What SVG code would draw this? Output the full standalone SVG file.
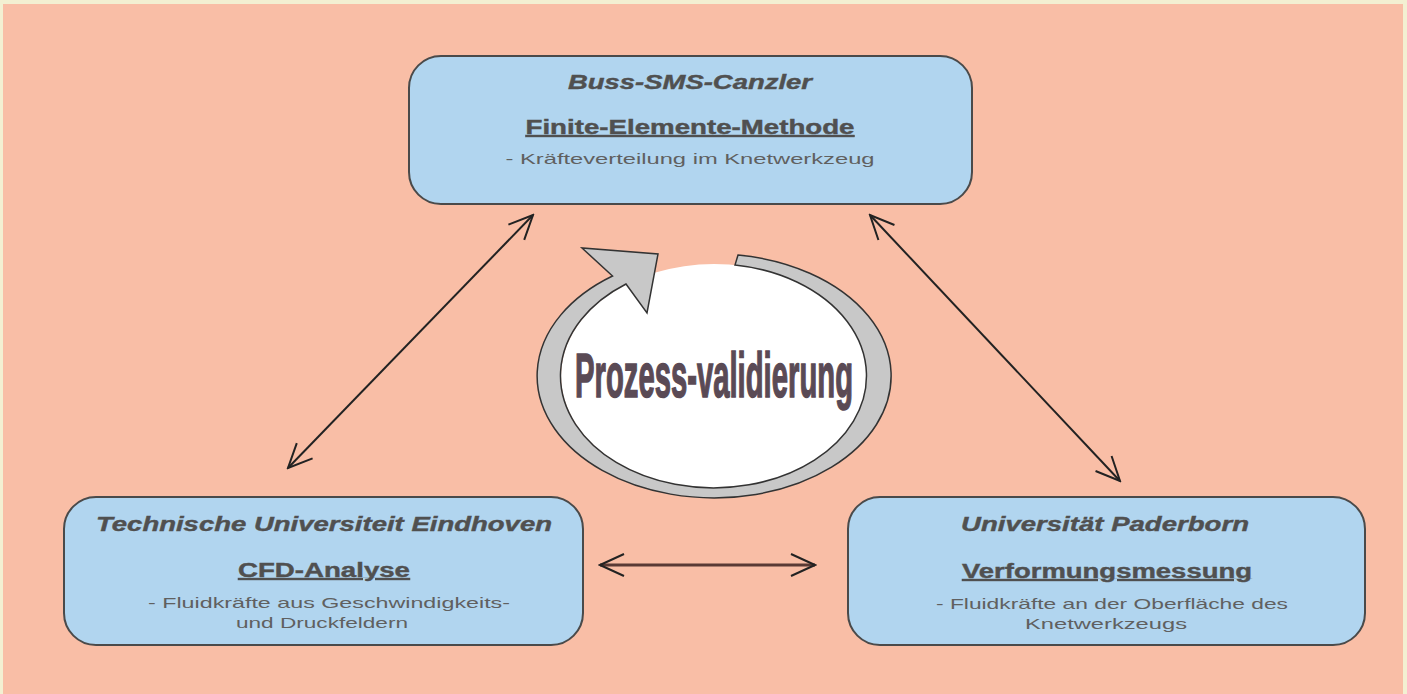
<svg xmlns="http://www.w3.org/2000/svg" width="1407" height="694" viewBox="0 0 1407 694">
<style>
.box{fill:#b1d5ef;stroke:#4a4a4a;stroke-width:2}
.t{font-family:"Liberation Sans",Arial,sans-serif;text-anchor:middle}
.org{font-weight:bold;font-style:italic;font-size:20px;fill:#505050;stroke:#505050;stroke-width:0.4}
.meth{font-weight:bold;font-size:20px;fill:#505050;stroke:#505050;stroke-width:0.4;text-decoration:underline}
.desc{font-size:15px;fill:#606060}
.conn{stroke:#222;stroke-width:2;fill:none}
</style>
<defs>
<marker id="ah" markerUnits="userSpaceOnUse" viewBox="-26 -14 28 28" markerWidth="28" markerHeight="28" refX="0" refY="0" orient="auto-start-reverse">
<path d="M-24,-11 L0,0 L-24,11" fill="none" stroke="#222" stroke-width="2"/>
</marker>
</defs>
<rect x="0" y="0" width="1407" height="694" fill="#f3f0d2"/>
<rect x="3" y="4" width="1400" height="690" fill="#f9bea6"/>

<g id="connectors">
<line class="conn" x1="533" y1="215" x2="288" y2="468" marker-start="url(#ah)" marker-end="url(#ah)"/>
<line class="conn" x1="870" y1="215" x2="1120" y2="481" marker-start="url(#ah)" marker-end="url(#ah)"/>
<line class="conn" x1="600" y1="565" x2="815" y2="565" style="stroke:#5a3a35;stroke-width:3" marker-start="url(#ah)" marker-end="url(#ah)"/>
</g>

<g id="cycle">
<ellipse cx="714" cy="376" rx="153" ry="112" fill="#ffffff"/>
<path d="M 612.5 276 A 177 122 0 1 0 738 255 L 735 265 A 153 112 0 1 1 626 284 L 647 313 L 658 254 L 582 248 Z" fill="#c8c8c8" stroke="#333" stroke-width="1.5" stroke-linejoin="miter"/>
<text x="714" y="397" textLength="278" lengthAdjust="spacingAndGlyphs" style="font-family:'Liberation Sans',Arial,sans-serif;font-weight:bold;font-size:63px;fill:#5a4a55;stroke:#5a4a55;stroke-width:1.6;text-anchor:middle">Prozess-validierung</text>
</g>

<g id="node-top">
<rect class="box" x="409" y="56" width="563" height="148" rx="32" ry="32"/>
<text class="t org" x="690" y="89" textLength="244" lengthAdjust="spacingAndGlyphs">Buss-SMS-Canzler</text>
<text class="t meth" x="690" y="134" textLength="329" lengthAdjust="spacingAndGlyphs">Finite-Elemente-Methode</text>
<text class="t desc" x="690" y="164" textLength="369" lengthAdjust="spacingAndGlyphs">- Kräfteverteilung im Knetwerkzeug</text>
</g>

<g id="node-left">
<rect class="box" x="64" y="497" width="519" height="148" rx="32" ry="32"/>
<text class="t org" x="324" y="531" textLength="456" lengthAdjust="spacingAndGlyphs">Technische Universiteit Eindhoven</text>
<text class="t meth" x="324" y="577" textLength="172" lengthAdjust="spacingAndGlyphs">CFD-Analyse</text>
<text class="t desc" x="329" y="608" textLength="362" lengthAdjust="spacingAndGlyphs">- Fluidkräfte aus Geschwindigkeits-</text>
<text class="t desc" x="322" y="628" textLength="172" lengthAdjust="spacingAndGlyphs">und Druckfeldern</text>
</g>

<g id="node-right">
<rect class="box" x="848" y="497" width="517" height="148" rx="32" ry="32"/>
<text class="t org" x="1105" y="531" textLength="288" lengthAdjust="spacingAndGlyphs">Universität Paderborn</text>
<text class="t meth" x="1107" y="578" textLength="290" lengthAdjust="spacingAndGlyphs">Verformungsmessung</text>
<text class="t desc" x="1112" y="609" textLength="352" lengthAdjust="spacingAndGlyphs">- Fluidkräfte an der Oberfläche des</text>
<text class="t desc" x="1106" y="629" textLength="162" lengthAdjust="spacingAndGlyphs">Knetwerkzeugs</text>
</g>
</svg>
